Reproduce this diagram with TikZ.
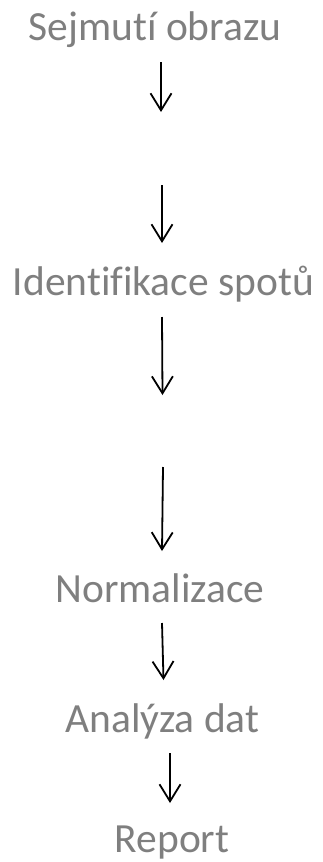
\documentclass[tikz,border=0pt]{standalone}
\usepackage{fontspec}
\setmainfont[Ligatures={NoCommon}]{Carlito}
\usetikzlibrary{arrows.meta}
\definecolor{txtgray}{HTML}{7F7F7F}
\begin{document}
\begin{tikzpicture}[x=1pt,y=-1pt,
  lbl/.style={anchor=base,inner sep=0pt,text=txtgray,font=\fontsize{41.5}{48}\selectfont},
  flow/.style={line width=1.8pt,-{Straight Barb[length=17pt,width=21pt,line width=1.8pt]}}]
\useasboundingbox (0,0) rectangle (322,862);
\node[lbl] (s1) at (155,40) {Sejmutí obrazu};
\node[lbl] (s2) at (163.5,295) {Identifikace spotů};
\node[lbl] (s3) at (160,602) {Normalizace};
\node[lbl] (s4) at (162.5,732) {Analýza dat};
\node[lbl] (s5) at (172,852.5) {Report};
\coordinate (a1s) at (161,62);  \coordinate (a1e) at (161,112);
\coordinate (a2s) at (162,185); \coordinate (a2e) at (162,243);
\coordinate (a3s) at (162,317); \coordinate (a3e) at (162.5,395);
\coordinate (a4s) at (163,467); \coordinate (a4e) at (162,551);
\coordinate (a5s) at (162,623); \coordinate (a5e) at (163.5,680);
\coordinate (a6s) at (170,753); \coordinate (a6e) at (170,803);
\draw[flow] (a1s) -- (a1e);
\draw[flow] (a2s) -- (a2e);
\draw[flow] (a3s) -- (a3e);
\draw[flow] (a4s) -- (a4e);
\draw[flow] (a5s) -- (a5e);
\draw[flow] (a6s) -- (a6e);
\end{tikzpicture}
\end{document}
